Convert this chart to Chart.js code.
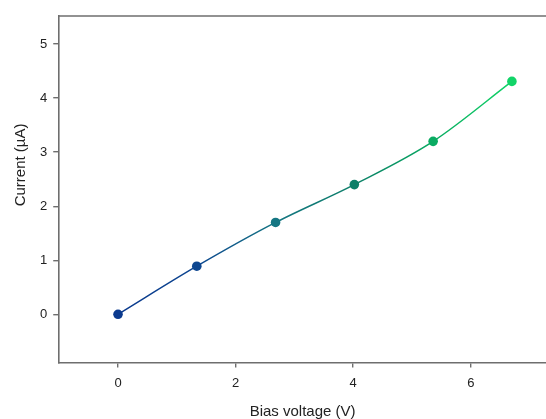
<!DOCTYPE html>
<html>
<head>
<meta charset="utf-8">
<script src="https://cdn.jsdelivr.net/npm/chart.js@4"></script>
<style>
  html, body { margin: 0; padding: 0; background: #fff; overflow: hidden; }
  #wrap { width: 546px; height: 419px; }
</style>
</head>
<body>
<div id="wrap"><canvas id="myChart" width="546" height="419"></canvas></div>
<script>
// values
const biasVoltage = [0, 1.34, 2.68, 4.02, 5.36, 6.70];
const current = [0, 0.89, 1.70, 2.40, 3.20, 4.31];
const pointColors = ['#0b3a8e', '#0d4690', '#157683', '#0c7f68', '#0aab62', '#12d468'];
const xTicks = [0, 2, 4, 6];
const yTicks = [0, 1, 2, 3, 4, 5];
const yTitle = 'Current (\u00b5A)';

const points = biasVoltage.map((v, i) => ({ x: v, y: current[i] }));

// top frame line (plot has no right edge visible) + y title placed a bit above centre
const frameAndTitle = {
  id: 'frameAndTitle',
  afterDraw(chart) {
    const a = chart.chartArea;
    const c = chart.ctx;
    c.save();
    c.strokeStyle = '#6e6e6e';
    c.lineWidth = 1.6;
    c.beginPath();
    c.moveTo(a.left - 0.8, a.top);
    c.lineTo(a.right, a.top);
    c.stroke();
    c.translate(21, a.top + (a.bottom - a.top) * 0.43);
    c.rotate(-Math.PI / 2);
    c.fillStyle = '#222';
    c.font = '15px "Liberation Sans"';
    c.textAlign = 'center';
    c.textBaseline = 'middle';
    c.fillText(yTitle, 0, 0);
    c.restore();
  }
};

function lineGradient(context) {
  const chart = context.chart;
  const a = chart.chartArea;
  if (!a) return pointColors[0];
  const xs = chart.scales.x;
  const g = chart.ctx.createLinearGradient(xs.getPixelForValue(biasVoltage[0]), 0,
    xs.getPixelForValue(biasVoltage[biasVoltage.length - 1]), 0);
  pointColors.forEach((col, i) => g.addColorStop(i / (pointColors.length - 1), col));
  return g;
}

const ctx = document.getElementById('myChart').getContext('2d');
const myChart = new Chart(ctx, {
  type: 'scatter',
  data: {
    datasets: [{
      label: 'Current',
      data: points,
      showLine: true,
      borderColor: lineGradient,
      borderWidth: 1.5,
      cubicInterpolationMode: 'monotone',
      pointRadius: 4.8,
      pointHoverRadius: 4.8,
      pointBackgroundColor: pointColors,
      pointBorderColor: pointColors,
      pointBorderWidth: 0
    }]
  },
  options: {
    responsive: false,
    animation: false,
    layout: { autoPadding: false, padding: { top: 16, right: 0, left: 0, bottom: 0 } },
    plugins: {
      legend: { display: false },
      tooltip: { enabled: false }
    },
    scales: {
      x: {
        type: 'linear',
        min: -1.0,
        max: 7.28,
        afterBuildTicks: s => { s.ticks = xTicks.map(v => ({ value: v })); },
        afterFit: s => { s.paddingRight = 0; s.paddingLeft = 0; },
        grid: { drawOnChartArea: false, drawTicks: true, tickLength: 5, color: '#6e6e6e', lineWidth: 1.4 },
        border: { display: true, color: '#6e6e6e', width: 1.6 },
        ticks: { color: '#222', font: { family: 'Liberation Sans', size: 13 }, padding: 8, maxRotation: 0 },
        title: { display: true, text: 'Bias voltage (V)', color: '#222', font: { family: 'Liberation Sans', size: 15, lineHeight: 1 }, padding: { top: 5, bottom: 0 } }
      },
      y: {
        type: 'linear',
        min: -0.89,
        max: 5.52,
        afterBuildTicks: s => { s.ticks = yTicks.map(v => ({ value: v })); },
        afterFit: s => { s.paddingTop = 0; s.paddingBottom = 0; },
        grid: { drawOnChartArea: false, drawTicks: true, tickLength: 6, color: '#6e6e6e', lineWidth: 1.4 },
        border: { display: true, color: '#6e6e6e', width: 1.6 },
        ticks: { color: '#222', font: { family: 'Liberation Sans', size: 13 }, padding: 6 },
        // space is reserved here, the text itself is drawn by the plugin
        title: { display: true, text: yTitle, color: 'rgba(0,0,0,0)', font: { family: 'Liberation Sans', size: 15 }, padding: { top: 12, bottom: 4 } }
      }
    }
  },
  plugins: [frameAndTitle]
});
</script>
</body>
</html>
